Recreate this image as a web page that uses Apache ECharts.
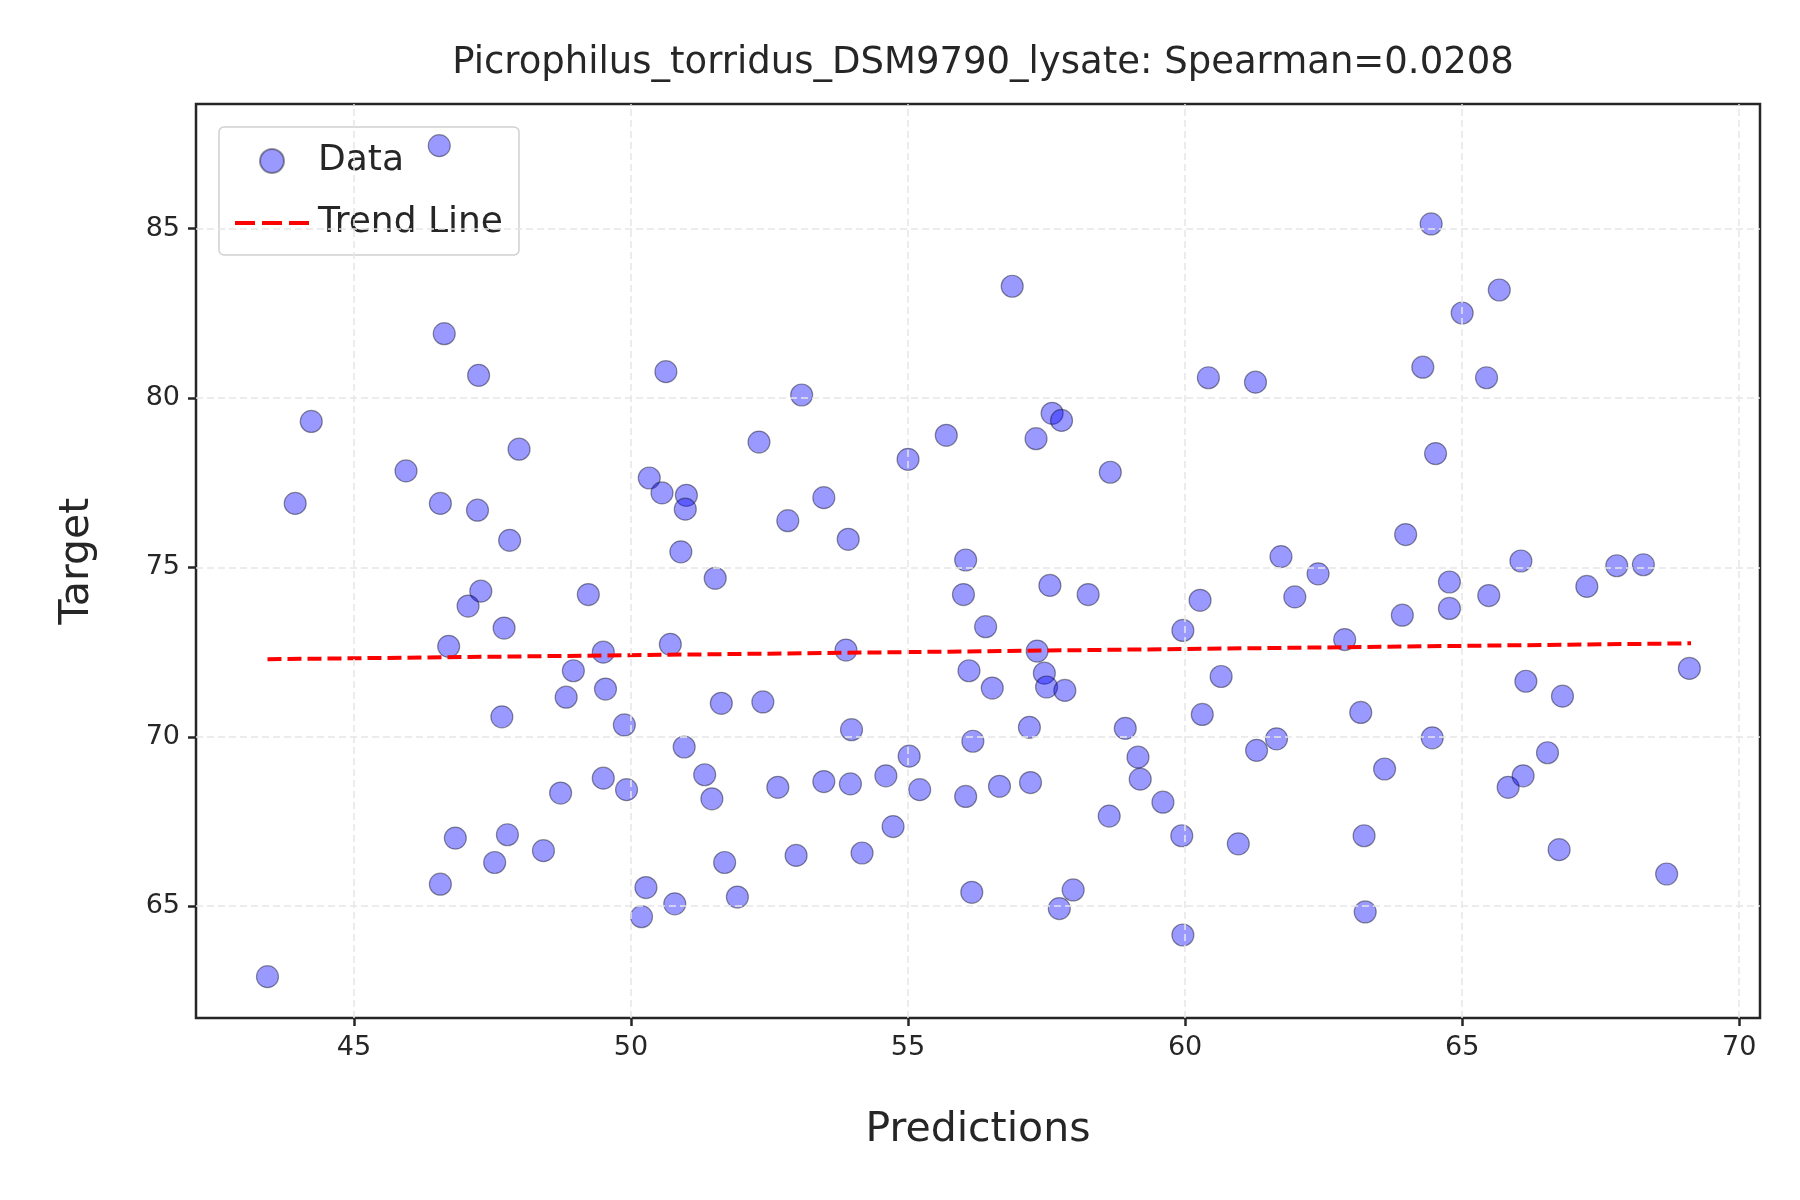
<!DOCTYPE html>
<html>
<head>
<meta charset="utf-8">
<script src="https://cdn.jsdelivr.net/npm/echarts@6/dist/echarts.min.js"></script>
<style>html,body{margin:0;background:#fff}#main{width:1800px;height:1200px}</style>
</head>
<body>
<div id="main"></div>
<script>
// values
let predX = [43.44,43.94,44.23,45.94,46.54,46.63,46.56,46.71,46.56,46.83,47.25,47.23,47.29,47.06,47.71,47.81,47.98,47.67,47.77,47.54,
    48.42,48.73,48.83,48.96,49.23,49.5,49.54,49.5,49.88,49.92,50.19,50.27,50.33,50.56,50.63,51.0,50.98,50.9,50.71,50.96,
    50.79,51.33,51.46,51.52,51.63,51.69,51.92,52.31,52.38,52.65,52.83,52.98,53.08,53.48,53.48,53.92,53.88,53.96,53.98,54.17,
    54.6,54.73,55.0,55.02,55.21,55.69,56.04,56.0,56.1,56.17,56.04,56.15,56.4,56.52,56.65,56.88,57.19,57.21,57.31,57.33,
    57.46,57.5,57.56,57.6,57.77,57.83,57.73,57.98,58.25,58.65,58.63,58.92,59.15,59.19,59.6,59.94,59.96,59.96,60.27,60.31,
    60.42,60.65,60.96,61.27,61.29,61.65,61.73,61.98,62.4,62.88,63.17,63.23,63.25,63.6,63.92,63.98,64.29,64.44,64.46,64.52,
    64.77,64.77,65.0,65.44,65.48,65.67,65.83,66.06,66.1,66.15,66.54,66.75,66.81,67.25,67.79,68.27,68.69,69.1];
let targetY = [62.92,76.89,79.31,77.85,87.45,81.9,76.89,72.67,65.65,67.01,80.67,76.69,74.3,73.86,73.21,75.8,78.49,70.59,67.11,66.29,
    66.64,68.34,71.17,71.95,74.2,72.5,71.41,68.78,70.35,68.44,64.69,65.55,77.64,77.2,80.78,77.13,76.72,75.46,72.73,69.7,
    65.07,68.88,68.17,74.68,70.99,66.29,65.27,78.7,71.03,68.51,76.38,66.5,80.09,77.06,68.68,75.83,72.56,68.61,70.21,66.57,
    68.85,67.35,78.19,69.43,68.44,78.9,75.22,74.2,71.95,69.87,68.24,65.41,73.25,71.44,68.54,83.3,70.28,68.65,78.8,72.53,
    71.88,71.47,74.47,79.55,79.34,71.37,64.93,65.48,74.2,77.81,67.66,70.25,69.4,68.75,68.07,67.08,73.14,64.15,74.03,70.66,
    80.6,71.78,66.84,80.47,69.6,69.94,75.32,74.13,74.81,72.87,70.72,67.08,64.83,69.05,73.59,75.97,80.91,85.14,69.97,78.36,
    74.57,73.79,82.51,80.6,74.17,83.19,68.51,75.19,68.85,71.64,69.53,66.67,71.2,74.44,75.05,75.08,65.95,72.02];
let trendX = [43.44, 69.13];
let trendY = [72.29, 72.76];
let xTicks = [45, 50, 55, 60, 65, 70];
let yTicks = [65, 70, 75, 80, 85];

let chart = echarts.init(document.getElementById('main'));
let font = 'DejaVu Sans';

let gridLines = xTicks.map(v => ({ xAxis: v })).concat(yTicks.map(v => ({ yAxis: v })));

chart.setOption({
    animation: false,
    textStyle: { fontFamily: font },
    title: {
        text: 'Picrophilus_torridus_DSM9790_lysate: Spearman=0.0208',
        left: 978, top: 40, textAlign: 'center',
        textStyle: { fontSize: 37, fontWeight: 'normal', color: '#262626' }
    },
    grid: {
        left: 196, right: 40, top: 104, bottom: 182,
        show: true, borderColor: '#262626', borderWidth: 2.5, backgroundColor: '#fff'
    },
    legend: {
        left: 219, top: 127, orient: 'vertical',
        borderColor: '#d0d0d0', borderWidth: 1.5, borderRadius: 5,
        padding: [16, 16, 14, 16], itemGap: 26,
        itemWidth: 74, itemHeight: 24,
        textStyle: { fontSize: 36, color: '#262626', padding: [0, 0, 0, 4] },
        data: [
            { name: 'Data', icon: 'path://M37,0 A12,12 0 1 1 36.99,0 Z' },
            { name: 'Trend Line', icon: 'path://M0,10 L20,10 L20,14 L0,14 Z M27,10 L47,10 L47,14 L27,14 Z M54,10 L74,10 L74,14 L54,14 Z' }
        ]
    },
    xAxis: {
        type: 'value', min: 42.15, max: 70.375,
        name: 'Predictions', nameLocation: 'middle', nameGap: 92,
        nameTextStyle: { fontSize: 41, color: '#262626' },
        axisLine: { show: false },
        axisTick: { show: true, customValues: xTicks, length: 8, lineStyle: { color: '#262626', width: 2.5 } },
        axisLabel: { customValues: xTicks, fontSize: 27, color: '#262626', margin: 16 },
        splitLine: { show: false }
    },
    yAxis: {
        type: 'value', min: 61.7, max: 88.68,
        name: 'Target', nameLocation: 'middle', nameGap: 98,
        nameTextStyle: { fontSize: 41, color: '#262626' },
        axisLine: { show: false },
        axisTick: { show: true, customValues: yTicks, length: 8, lineStyle: { color: '#262626', width: 2.5 } },
        axisLabel: { customValues: yTicks, fontSize: 27, color: '#262626', margin: 16 },
        splitLine: { show: false }
    },
    series: [
        {
            name: 'grid',
            type: 'line', data: [], silent: true,
            markLine: {
                silent: true, symbol: 'none', label: { show: false },
                lineStyle: { color: '#e6e6e6', type: [7, 4], width: 1.5 },
                data: gridLines
            }
        },
        {
            name: 'Data',
            type: 'scatter',
            symbolSize: 22,
            itemStyle: { color: 'rgba(0,0,255,0.5)', borderColor: 'rgba(0,0,0,0.5)', borderWidth: 1.2 },
            data: predX.map((x, i) => [x, targetY[i]]),
            z: 3
        },
        {
            name: 'Trend Line',
            type: 'line', symbol: 'none',
            lineStyle: { color: '#ff0000', width: 4, type: [14, 6] },
            itemStyle: { color: '#ff0000' },
            data: trendX.map((x, i) => [x, trendY[i]]),
            z: 4
        }
    ]
});
</script>
</body>
</html>
